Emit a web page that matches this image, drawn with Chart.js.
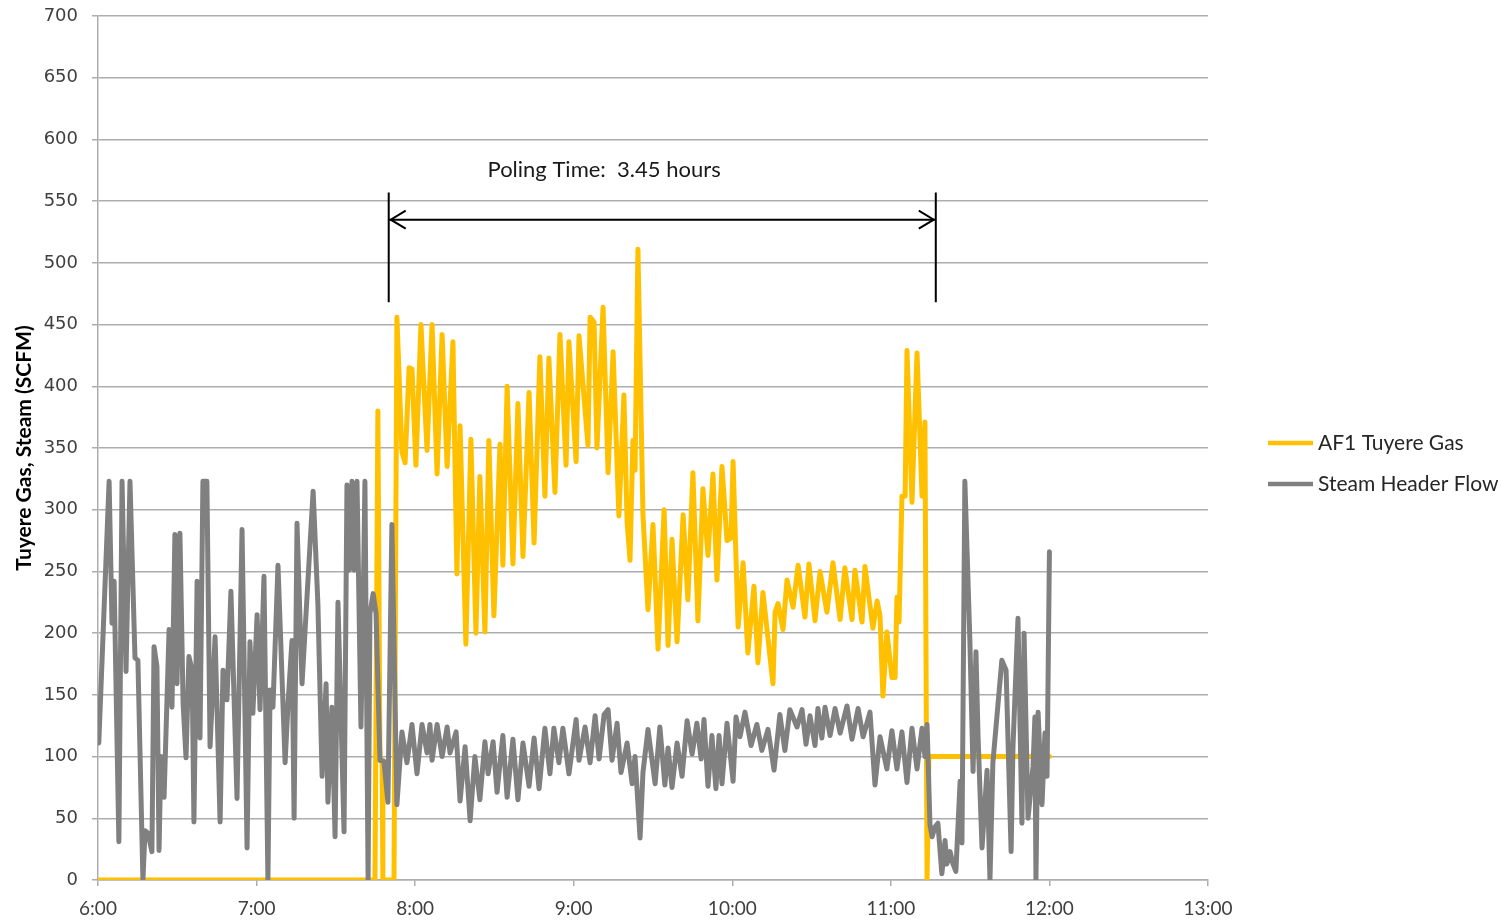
<!DOCTYPE html>
<html>
<head>
<meta charset="utf-8">
<script src="https://cdn.jsdelivr.net/npm/chart.js@4.4.1/dist/chart.umd.min.js"></script>
<style>
  html, body { margin: 0; padding: 0; background: #ffffff; }
  #wrap { width: 1505px; height: 923px; position: relative; }
</style>
</head>
<body>
<div id="wrap"><canvas id="chart" width="1505" height="923"></canvas></div>
<script>
// Time axis is in minutes after midnight (360 = 6:00).
const hourLabels = ['6:00', '7:00', '8:00', '9:00', '10:00', '11:00', '12:00', '13:00'];
const axisStart = 360;
const axisEnd = 780;

// AF1 Tuyere Gas (SCFM)
const gasTimes = [
  360.0, 464.8, 465.9, 466.7, 467.5, 467.8, 472.0, 473.1, 475.0, 476.2,
  477.7, 478.8, 480.3, 482.2, 484.5, 486.4, 488.3, 490.2, 492.1, 494.3,
  495.8, 497.0, 499.2, 501.1, 503.0, 504.5, 506.4, 507.9, 509.8, 512.1,
  513.2, 514.8, 517.0, 518.9, 520.8, 523.1, 525.0, 527.2, 529.1, 530.6,
  532.9, 534.8, 537.1, 538.2, 540.9, 542.0, 545.4, 546.2, 547.7, 548.8,
  551.1, 553.0, 554.9, 557.1, 559.0, 560.2, 561.3, 562.4, 563.2, 564.3,
  566.2, 568.1, 570.0, 571.9, 574.2, 575.7, 577.2, 579.1, 581.4, 583.2,
  585.1, 587.0, 588.9, 590.8, 592.7, 594.2, 596.1, 598.0, 599.5, 600.3,
  602.2, 604.1, 605.9, 608.2, 609.7, 611.6, 615.4, 616.2, 617.3, 619.2,
  620.7, 623.0, 624.9, 627.5, 629.0, 631.3, 633.2, 635.8, 638.1, 640.8,
  642.6, 645.3, 646.4, 649.1, 650.2, 653.2, 654.8, 655.9, 657.0, 658.5,
  660.4, 661.6, 662.3, 663.1, 664.2, 665.4, 666.1, 668.0, 669.9, 671.8,
  672.9, 673.7, 674.4, 720.0
];
const gasValues = [
  0, 0, 380, 97, 97, 0, 0, 456, 347, 338,
  415, 414, 336, 450, 348, 450, 329, 442, 335, 436,
  248, 368, 191, 357, 200, 327, 201, 356, 214, 353,
  255, 400, 256, 386, 262, 395, 273, 424, 311, 423,
  314, 442, 336, 436, 339, 441, 352, 456, 452, 350,
  464, 330, 428, 295, 393, 290, 259, 356, 332, 511,
  296, 219, 288, 187, 300, 190, 276, 193, 296, 227,
  330, 210, 317, 263, 329, 243, 335, 275, 277, 339,
  205, 257, 184, 238, 176, 233, 159, 217, 224, 203,
  243, 221, 255, 213, 256, 210, 250, 217, 257, 211,
  253, 211, 251, 209, 254, 204, 226, 214, 149, 201,
  164, 164, 229, 209, 311, 311, 429, 306, 427, 311,
  371, 0, 100, 100
];

// Steam Header Flow (SCFM)
const steamTimes = [
  360.3, 364.2, 365.3, 366.1, 367.9, 369.1, 370.6, 372.1, 374.0, 375.1,
  377.0, 377.8, 378.9, 380.4, 381.2, 382.3, 383.1, 383.8, 385.0, 386.9,
  388.0, 389.1, 389.9, 391.0, 392.2, 393.3, 394.4, 395.6, 396.3, 397.5,
  398.6, 399.7, 401.2, 402.4, 404.3, 406.2, 407.3, 408.8, 410.3, 412.6,
  414.5, 416.4, 417.5, 418.6, 420.2, 421.3, 422.8, 424.3, 425.1, 426.2,
  428.1, 430.8, 431.9, 433.4, 434.2, 435.3, 437.2, 439.1, 441.4, 443.2,
  444.8, 446.3, 447.0, 448.5, 449.7, 450.8, 453.1, 454.2, 455.0, 456.1,
  456.9, 458.0, 459.5, 460.3, 461.0, 462.2, 462.9, 464.1, 465.2, 466.7,
  468.2, 469.7, 471.2, 473.1, 475.0, 476.9, 478.8, 480.7, 482.6, 484.5,
  485.6, 486.4, 488.3, 490.2, 492.1, 493.2, 495.5, 497.0, 498.9, 500.8,
  502.6, 504.5, 506.4, 507.6, 509.5, 511.0, 513.2, 514.8, 517.0, 518.9,
  520.8, 523.1, 525.0, 526.9, 529.1, 531.0, 532.5, 534.4, 535.9, 538.2,
  540.9, 542.0, 544.3, 546.2, 548.1, 549.6, 551.5, 553.0, 554.5, 556.4,
  557.9, 560.2, 562.1, 563.2, 565.1, 566.2, 568.1, 570.8, 572.6, 574.5,
  575.7, 577.2, 579.1, 581.0, 582.9, 584.8, 586.6, 588.2, 589.3, 590.8,
  592.3, 593.8, 595.0, 596.1, 598.0, 600.3, 601.4, 602.9, 604.8, 607.1,
  609.3, 611.2, 613.5, 615.8, 618.0, 619.9, 621.8, 624.5, 626.4, 627.9,
  629.4, 631.3, 632.4, 633.9, 635.1, 637.0, 638.9, 640.8, 643.4, 645.3,
  647.6, 649.5, 652.1, 654.0, 655.9, 658.5, 660.4, 662.3, 664.2, 666.1,
  668.0, 669.9, 671.8, 672.9, 673.7, 674.8, 675.6, 676.7, 677.8, 679.3,
  680.5, 681.2, 682.4, 683.5, 684.6, 686.2, 686.9, 688.0, 689.9, 691.1,
  692.2, 693.0, 694.5, 696.4, 697.5, 698.6, 702.0, 703.6, 705.5, 706.2,
  708.1, 709.6, 710.4, 711.9, 713.8, 714.5, 714.9, 715.7, 717.2, 718.3,
  719.1, 720.0
];
const steamValues = [
  111, 323, 208, 242, 31, 323, 169, 323, 180, 178,
  0, 40, 38, 23, 189, 173, 24, 100, 67, 203,
  140, 280, 159, 281, 143, 99, 181, 170, 47, 242,
  115, 323, 323, 108, 197, 47, 170, 146, 234, 66,
  284, 26, 193, 135, 215, 138, 246, 0, 154, 140,
  255, 95, 143, 194, 50, 289, 159, 230, 315, 224,
  84, 159, 63, 140, 35, 225, 39, 320, 251, 323,
  251, 323, 124, 216, 323, 0, 216, 232, 216, 97,
  96, 63, 288, 61, 120, 95, 126, 86, 126, 103,
  126, 97, 126, 100, 124, 103, 120, 64, 108, 48,
  100, 65, 112, 86, 112, 71, 117, 67, 114, 65,
  111, 76, 115, 74, 123, 86, 123, 95, 123, 86,
  130, 97, 124, 95, 133, 98, 134, 138, 97, 127,
  87, 111, 78, 100, 34, 87, 122, 78, 124, 77,
  107, 75, 111, 84, 129, 102, 127, 98, 130, 76,
  117, 74, 117, 78, 127, 80, 132, 116, 136, 109,
  126, 105, 122, 89, 134, 105, 138, 124, 138, 110,
  133, 109, 139, 115, 140, 117, 139, 119, 141, 114,
  139, 116, 136, 77, 116, 90, 121, 90, 120, 79,
  123, 90, 123, 100, 126, 45, 35, 43, 46, 5,
  32, 13, 23, 13, 7, 80, 30, 323, 194, 88,
  185, 116, 26, 89, 0, 95, 178, 170, 23, 107,
  212, 46, 200, 50, 92, 132, 0, 136, 61, 119,
  84, 266
];

// Poling period annotation
const poleStart = 470;          // 7:50
const poleHours = 3.45;
const poleText = 'Poling Time:  3.45 hours';
const poleTextAt = 551.5;       // centre of the caption on the time axis
const poleArrowLevel = 535;
const poleBracketTop = 557;
const poleBracketBottom = 468;
const poleTextLevel = 575;

const GAS_COLOR = '#FFC000';
const STEAM_COLOR = '#808080';
const GRID_COLOR = '#ADADAD';
const TEXT_COLOR = '#404040';

function pairs(times, values) {
  return times.map((t, i) => ({ x: t, y: values[i] }));
}

const polingAnnotation = {
  id: 'polingAnnotation',
  afterDatasetsDraw(chart) {
    const { ctx, scales: { x, y } } = chart;
    const x0 = x.getPixelForValue(poleStart);
    const x1 = x.getPixelForValue(poleStart + poleHours * 60);
    const yArrow = y.getPixelForValue(poleArrowLevel);
    const yTop = y.getPixelForValue(poleBracketTop);
    const yBot = y.getPixelForValue(poleBracketBottom);
    ctx.save();
    ctx.strokeStyle = '#000000';
    ctx.lineWidth = 2;
    ctx.lineCap = 'butt';
    ctx.beginPath();
    ctx.moveTo(x0, yTop); ctx.lineTo(x0, yBot);
    ctx.moveTo(x1, yTop); ctx.lineTo(x1, yBot);
    ctx.moveTo(x0 + 1, yArrow); ctx.lineTo(x1 - 1, yArrow);
    ctx.stroke();
    ctx.lineJoin = 'miter';
    ctx.beginPath();
    ctx.moveTo(x0 + 17, yArrow - 9); ctx.lineTo(x0 + 2, yArrow); ctx.lineTo(x0 + 17, yArrow + 9);
    ctx.moveTo(x1 - 17, yArrow - 9); ctx.lineTo(x1 - 2, yArrow); ctx.lineTo(x1 - 17, yArrow + 9);
    ctx.stroke();
    ctx.fillStyle = '#1a1a1a';
    ctx.font = '22px Lato';
    ctx.textAlign = 'center';
    ctx.textBaseline = 'middle';
    ctx.fillText(poleText, x.getPixelForValue(poleTextAt), y.getPixelForValue(poleTextLevel));
    ctx.restore();
  }
};

const sideLegend = {
  id: 'sideLegend',
  afterDraw(chart) {
    const { ctx, chartArea } = chart;
    const items = chart.data.datasets;
    const left = chartArea.right + 60;
    const midY = chart.height / 2 + 2;
    const gap = 41;
    ctx.save();
    ctx.font = '21px Lato';
    ctx.textBaseline = 'middle';
    ctx.textAlign = 'left';
    items.forEach((ds, i) => {
      const yy = midY - gap / 2 + i * gap;
      ctx.strokeStyle = ds.borderColor;
      ctx.lineWidth = 4.5;
      ctx.lineCap = 'butt';
      ctx.beginPath();
      ctx.moveTo(left, yy);
      ctx.lineTo(left + 45, yy);
      ctx.stroke();
      ctx.fillStyle = '#262626';
      ctx.fillText(ds.label, left + 50, yy);
    });
    ctx.restore();
  }
};

new Chart(document.getElementById('chart'), {
  type: 'line',
  data: {
    datasets: [
      {
        label: 'AF1 Tuyere Gas',
        data: pairs(gasTimes, gasValues),
        borderColor: GAS_COLOR,
        backgroundColor: GAS_COLOR,
        borderWidth: 5,
        pointRadius: 0,
        tension: 0,
        borderJoinStyle: 'round',
        borderCapStyle: 'round',
        order: 1
      },
      {
        label: 'Steam Header Flow',
        data: pairs(steamTimes, steamValues),
        borderColor: STEAM_COLOR,
        backgroundColor: STEAM_COLOR,
        borderWidth: 5,
        pointRadius: 0,
        tension: 0,
        borderJoinStyle: 'round',
        borderCapStyle: 'round',
        order: 0
      }
    ]
  },
  options: {
    responsive: false,
    animation: false,
    devicePixelRatio: 1,
    parsing: false,
    normalized: true,
    layout: { padding: { top: 16, right: 297, bottom: 0, left: 0 } },
    plugins: {
      legend: { display: false },
      tooltip: { enabled: false }
    },
    scales: {
      x: {
        type: 'linear',
        min: axisStart,
        max: axisEnd,
        afterFit(scale) {
          scale.height = 43;
          scale.paddingLeft = 0;
          scale.paddingRight = 0;
        },
        grid: { drawOnChartArea: false, drawTicks: true, tickLength: 6, color: GRID_COLOR, lineWidth: 1.5 },
        border: { display: true, color: GRID_COLOR, width: 1.5 },
        ticks: {
          stepSize: 60,
          autoSkip: false,
          maxRotation: 0,
          padding: 11,
          color: TEXT_COLOR,
          font: { family: 'Lato', size: 19 },
          callback: (v) => hourLabels[Math.round((v - axisStart) / 60)]
        }
      },
      y: {
        min: 0,
        max: 700,
        afterFit(scale) {
          scale.width = 98;
          scale.paddingTop = 0;
          scale.paddingBottom = 0;
        },
        grid: { color: GRID_COLOR, lineWidth: 1.5, drawTicks: true, tickLength: 6 },
        border: { display: true, color: GRID_COLOR, width: 1.5 },
        ticks: {
          stepSize: 50,
          padding: 14,
          color: TEXT_COLOR,
          font: { family: 'DejaVu Sans', size: 18 }
        },
        title: {
          display: true,
          text: 'Tuyere Gas, Steam (SCFM)',
          color: '#000000',
          font: { family: 'Lato', size: 21, weight: 'bold' },
          padding: { top: 12, bottom: 0 }
        }
      }
    }
  },
  plugins: [polingAnnotation, sideLegend]
});
</script>
</body>
</html>
